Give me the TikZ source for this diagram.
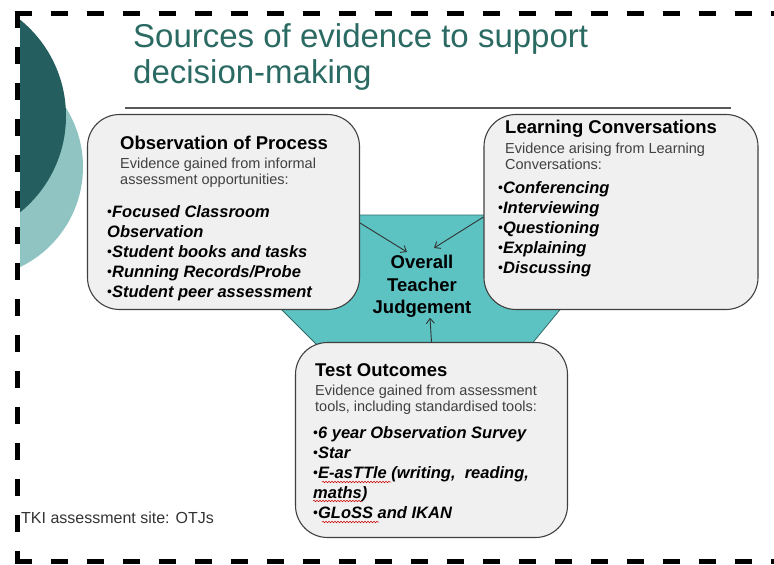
\documentclass[tikz,border=0pt]{standalone}
\usepackage{fontspec}
\setmainfont{Liberation Sans}
\usetikzlibrary{arrows.meta, positioning, decorations.pathmorphing}

\definecolor{titleteal}{RGB}{42,106,98}
\definecolor{darkteal}{RGB}{37,94,94}
\definecolor{lightteal}{RGB}{143,196,194}
\definecolor{otjteal}{RGB}{92,194,194}
\definecolor{boxgray}{RGB}{240,240,240}
\definecolor{textgray}{RGB}{64,64,64}

\newcommand{\fsz}[2]{\fontsize{#1}{#2}\selectfont}
\newcommand{\bul}{\raisebox{0.8pt}{\normalfont\fontsize{14}{20}\selectfont\textbullet}}

\begin{document}
\begin{tikzpicture}[x=1pt, y=-1pt,
    every node/.style={inner sep=0pt, anchor=north west, align=left},
    box/.style={draw=black!75, fill=boxgray, line width=1.1pt, rounded corners=32pt,
                minimum width=272pt, minimum height=195pt, anchor=center},
    head/.style={font=\fsz{18.5}{22}\bfseries},
    desc/.style={font=\fsz{14.5}{16.5}, text=textgray},
    items/.style={font=\fsz{16.5}{20}\bfseries\itshape},
    arr/.style={-{Straight Barb[length=5pt,width=8pt]}, draw=black!80, line width=0.9pt},
    frame/.style={line width=5pt, dash pattern=on 17pt off 19pt},
    squiggle/.style={red!80!black, line width=0.5pt, decorate,
                     decoration={snake, amplitude=0.8pt, segment length=3pt}}
  ]
  \clip (0,0) rectangle (774,565);

  % slide decoration
  \begin{scope}
    \clip (20,0) rectangle (200,565);
    \fill[lightteal] (-28,167) circle (111pt);
    \fill[darkteal] (-58,116) circle (124pt);
  \end{scope}

  % title
  \node[font=\fsz{33}{36}, text=titleteal] (title) at (133,23.5)
    {Sources of evidence to support\\decision-making};
  \draw[black!65, line width=1.2pt] (125,108) -- (731,108);

  % centre shape
  \filldraw[fill=otjteal, draw=otjteal!55!black, line width=0.8pt]
    (340,215) -- (500,215) -- (568,300) -- (530,346) -- (318,346) -- (272,300) -- cycle;

  % the three sources
  \node[box] (obs)  at (223.5,212) {};
  \node[box, minimum width=274pt] (lc) at (621,212) {};
  \node[box] (test) at (431.5,440) {};

  \node[head]  (obsH) at (120,135.5) {Observation of Process};
  \node[desc]  (obsD) at (120,157.5) {Evidence gained from informal\\assessment opportunities:};
  \node[items] (obsL) at (107,205) {\bul Focused Classroom\\Observation\\\bul Student books and tasks\\\bul Running Records/Probe\\\bul Student peer assessment};

  \node[head]  (lcH) at (505,119.5) {Learning Conversations};
  \node[desc]  (lcD) at (505,142.5) {Evidence arising from Learning\\Conversations:};
  \node[items] (lcL) at (498,181) {\bul Conferencing\\\bul Interviewing\\\bul Questioning\\\bul Explaining\\\bul Discussing};

  \node[head]  (testH) at (315,363.5) {Test Outcomes};
  \node[desc]  (testD) at (315,384.5) {Evidence gained from assessment\\tools, including standardised tools:};
  \node[items] (testL) at (313,426) {\bul 6 year Observation Survey\\\bul Star\\\bul E-asTTle (writing,~ reading,\\maths)\\\bul GLoSS and IKAN};

  % spelling marks
  \draw[squiggle] (322,482) -- (391,482);
  \draw[squiggle] (313,501) -- (362,501);
  \draw[squiggle] (322,522) -- (379,522);

  % judgement
  \node[font=\fsz{18.5}{22.5}\bfseries, align=center, anchor=north] (otj) at (422,255)
    {Overall\\Teacher\\Judgement};
  \draw[arr] ([yshift=-11pt]obs.east) -- ([xshift=-15pt,yshift=3pt]otj.north);
  \draw[arr] ([yshift=-5pt]lc.west) -- ([xshift=12pt,yshift=7pt]otj.north);
  \draw[arr] (test.north) -- ([xshift=8pt]otj.south);

  \node[font=\fsz{16}{18}, text=black!80] (tki) at (21,511.5) {TKI assessment site: OTJs};

  % dashed frame
  \draw[frame] (14.5,13) -- (790,13);
  \draw[frame] (17,10.5) -- (17,563.5);
  \draw[frame] (14.5,561) -- (790,561);
\end{tikzpicture}
\end{document}
